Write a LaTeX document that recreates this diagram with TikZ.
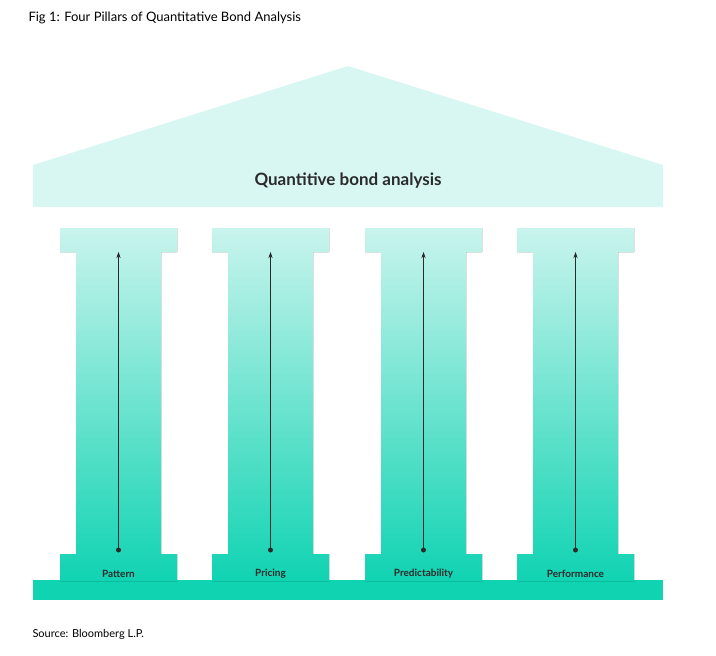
\documentclass[tikz,border=0pt]{standalone}
\usepackage{fontspec}
\setmainfont{Lato}
\usetikzlibrary{arrows.meta}
\definecolor{rooflight}{HTML}{D8F7F2}
\definecolor{pilltop}{HTML}{C9F4ED}
\definecolor{pillbot}{HTML}{10D3B2}
\definecolor{inkgrey}{HTML}{2B2B2B}
\tikzset{
  pillar/.style={top color=pilltop, bottom color=pillbot, draw=none},
  axis arrow/.style={-{Stealth[length=6pt,width=4pt]}, thin, inkgrey},
  label text/.style={font=\fontsize{10}{12}\selectfont\bfseries, text=inkgrey}
}
\begin{document}
\begin{tikzpicture}[x=1pt,y=-1pt]
\useasboundingbox (0,0) rectangle (716,656);

% caption and source
\node[anchor=west, font=\fontsize{13}{15}\selectfont] (title) at (25,18) {Fig 1: Four Pillars of Quantitative Bond Analysis};
\node[anchor=west, font=\fontsize{11}{13}\selectfont] (source) at (29,634) {Source: Bloomberg L.P.};

% roof
\fill[rooflight] (33,165) -- (348,66) -- (663,165) -- (663,207) -- (33,207) -- cycle;
\node[font=\fontsize{17}{20}\selectfont\bfseries, text=inkgrey] (roof) at (348,181) {Quantitive bond analysis};

% plinth
\fill[pillbot] (33,580) rectangle (663,600);

% pillars
\foreach \x/\name/\txt in {60/pattern/Pattern, 212/pricing/Pricing, 365/predict/Predictability, 517/perform/Performance}{
  \fill[pillar] (\x,228) -- ++(117,0) -- ++(0,24) -- ++(-16,0) -- ++(0,302) -- ++(16,0)
    -- ++(0,27) -- ++(-117,0) -- ++(0,-27) -- ++(16,0) -- ++(0,-302) -- ++(-16,0) -- cycle;
  \coordinate (\name-bot) at (\x+58.5,550);
  \coordinate (\name-top) at (\x+58.5,252);
  \fill[inkgrey] (\name-bot) circle (2.5);
  \draw[axis arrow] (\name-bot) -- (\name-top);
  \node[label text] (\name) at (\x+58.5,574) {\txt};
}
\end{tikzpicture}
\end{document}
